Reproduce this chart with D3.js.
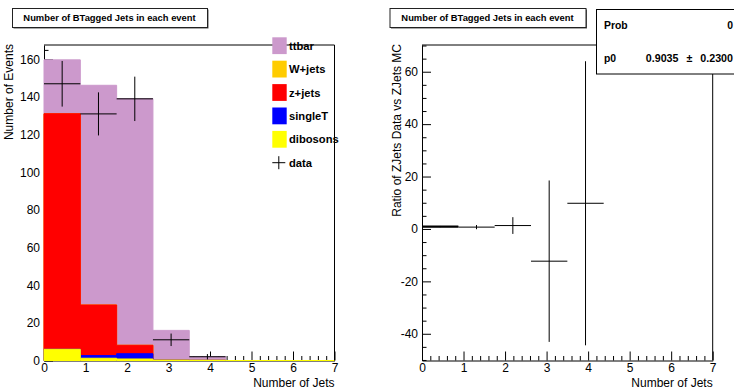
<!DOCTYPE html>
<html>
<head>
<meta charset="utf-8">
<script src="https://cdn.jsdelivr.net/npm/d3@7"></script>
<style>
  body { margin: 0; background: #fff; }
  svg { display: block; font-family: "Liberation Sans", Arial, Helvetica, sans-serif; }
</style>
</head>
<body>
<script>
// ---- histogram binning: 8 bins over [0, 7] ----
const nBins = 8;
const xDomain = [0, 7];
const xMajorTicks = [0, 1, 2, 3, 4, 5, 6, 7];

// ---- stacked MC contributions per bin (events) ----
const dibosons = [5.95, 1.2, 0.8, 0.2, 0.1, 0, 0, 0];
const singleT  = [0, 1.4, 2.8, 0, 0, 0, 0, 0];
const zjets    = [125.15, 26.9, 4.5, 0, 0, 0, 0, 0];
const wjets    = [0, 0, 0, 0, 0, 0, 0, 0];
const ttbar    = [28.6, 116.7, 131.0, 15.8, 1.9, 0, 0, 0];

// ---- observed data per bin ----
const dataCounts = [147, 131, 139, 11, 2];

// ---- Z+jets data / MC ratio per bin ----
const ratioValues = [0.9035, 0.7, 1.3, -12.3, 9.8];
const ratioErrors = [0.23, 0.8, 3.2, 30.8, 54.2];

// ---- constant fit to the ratio ----
const fitP0 = 0.9035;
const fitP0Err = 0.2300;
const fitProb = 0;

// ---- axis ticks ----
const leftYMajor = [0, 20, 40, 60, 80, 100, 120, 140, 160];
const rightYMajor = [-40, -20, 0, 20, 40, 60];

// ---- legend entries (top to bottom) ----
const legendNames = ["ttbar", "W+jets", "z+jets", "singleT", "dibosons"];
const legendColors = ["#cc99cc", "#ffcc00", "#ff0000", "#0000ff", "#ffff00"];

const W = 734, H = 391;
const svg = d3.select("body").append("svg").attr("width", W).attr("height", H);

const binWidth = (xDomain[1] - xDomain[0]) / nBins;
const binEdges = d3.range(nBins + 1).map(i => xDomain[0] + i * binWidth);
const binCenter = i => xDomain[0] + (i + 0.5) * binWidth;
const plainInt = d => String(Math.round(d));

function drawTitle(x, w, text) {
  const g = svg.append("g");
  g.append("rect").attr("x", x + 1.5).attr("y", 9.5).attr("width", w).attr("height", 19)
    .attr("fill", "#555");
  g.append("rect").attr("x", x + 0.5).attr("y", 8.5).attr("width", w).attr("height", 19)
    .attr("fill", "#fff").attr("stroke", "#222").attr("stroke-width", 1);
  g.append("text").attr("x", x + w / 2).attr("y", 21.3).attr("text-anchor", "middle")
    .attr("font-size", 9.4).attr("font-weight", "bold").text(text);
}

function styleAxis(g, fs) {
  g.attr("font-family", null).attr("font-size", null);
  g.selectAll("text").attr("font-size", fs).attr("fill", "#000");
  g.selectAll("line").attr("stroke", "#000");
  g.select(".domain").attr("stroke", "#000");
}

function drawAxes(x, y, yMajor, yMinorStep, plot) {
  const xMinor = d3.range(xDomain[0], xDomain[1] + 1e-9, 0.2)
    .filter(v => Math.abs(v - Math.round(v)) > 1e-6);
  const yd = y.domain();
  const yMinor = d3.range(Math.ceil(yd[0] / yMinorStep) * yMinorStep, yd[1] + 1e-9, yMinorStep)
    .filter(v => !yMajor.includes(v));

  const gx = svg.append("g").attr("transform", `translate(0,${plot.bottom})`)
    .call(d3.axisBottom(x).tickValues(xMajorTicks).tickSize(-9).tickSizeOuter(0).tickPadding(3)
      .tickFormat(plainInt));
  styleAxis(gx, 12);
  const gxm = svg.append("g").attr("transform", `translate(0,${plot.bottom})`)
    .call(d3.axisBottom(x).tickValues(xMinor).tickSize(-4.5).tickSizeOuter(0).tickFormat(""));
  styleAxis(gxm, 12);
  gxm.select(".domain").remove();

  const gy = svg.append("g").attr("transform", `translate(${plot.left},0)`)
    .call(d3.axisLeft(y).tickValues(yMajor).tickSize(-9).tickSizeOuter(0).tickPadding(4)
      .tickFormat(plainInt));
  styleAxis(gy, 12);
  const gym = svg.append("g").attr("transform", `translate(${plot.left},0)`)
    .call(d3.axisLeft(y).tickValues(yMinor).tickSize(-4.5).tickSizeOuter(0).tickFormat(""));
  styleAxis(gym, 12);
  gym.select(".domain").remove();
}

function drawFrameTopRight(plot) {
  svg.append("path")
    .attr("d", `M${plot.left},${plot.top}H${plot.right}V${plot.bottom}`)
    .attr("fill", "none").attr("stroke", "#000").attr("stroke-width", 1);
}

function drawXTitle(plot) {
  svg.append("text").attr("x", plot.right).attr("y", 387).attr("text-anchor", "end")
    .attr("font-size", 12).text("Number of Jets");
}
function drawYTitle(xPos, plot, text) {
  svg.append("text").attr("transform", `translate(${xPos},${plot.top - 1}) rotate(-90)`)
    .attr("text-anchor", "end").attr("font-size", 12).text(text);
}

// =================== left pad: stacked MC + data ===================
{
  const plot = { left: 44, right: 334.5, top: 45, bottom: 360.5 };
  const x = d3.scaleLinear().domain(xDomain).range([plot.left, plot.right]);
  const y = d3.scaleLinear().domain([0, 167.6]).range([plot.bottom, plot.top]);

  drawTitle(12, 195, "Number of BTagged Jets in each event");
  drawAxes(x, y, leftYMajor, 5, plot);

  const rows = d3.range(nBins).map(i => ({
    "dibosons": dibosons[i], "singleT": singleT[i], "z+jets": zjets[i],
    "W+jets": wjets[i], "ttbar": ttbar[i]
  }));
  const keys = ["dibosons", "singleT", "z+jets", "W+jets", "ttbar"];
  const color = d3.scaleOrdinal().domain(legendNames).range(legendColors);
  const layers = d3.stack().keys(keys)(rows);

  // cumulative histograms painted from the top of the stack down
  const area = d3.area()
    .curve(d3.curveStepAfter)
    .x(d => x(d.edge))
    .y0(y(0))
    .y1(d => y(d.top));
  layers.slice().reverse().forEach(layer => {
    const pts = binEdges.map((e, i) => ({ edge: e, top: layer[Math.min(i, nBins - 1)][1] }));
    svg.append("path").attr("d", area(pts))
      .attr("fill", color(layer.key)).attr("stroke", color(layer.key)).attr("stroke-width", 1);
  });

  drawFrameTopRight(plot);

  // data with Poisson errors
  const gData = svg.append("g").attr("stroke", "#000").attr("stroke-width", 1);
  dataCounts.forEach((n, i) => {
    const e = Math.sqrt(n);
    gData.append("line").attr("x1", x(binEdges[i])).attr("x2", x(binEdges[i + 1]))
      .attr("y1", y(n)).attr("y2", y(n));
    gData.append("line").attr("x1", x(binCenter(i))).attr("x2", x(binCenter(i)))
      .attr("y1", y(n - e)).attr("y2", y(n + e));
  });

  // legend
  const lg = svg.append("g");
  legendNames.forEach((name, i) => {
    const cy = 45.7 + i * 23.4;
    lg.append("rect").attr("x", 272.3).attr("y", cy - 8.4).attr("width", 14.4).attr("height", 16.8)
      .attr("fill", legendColors[i]);
    lg.append("text").attr("x", 289).attr("y", cy + 4).attr("font-size", 11.2)
      .attr("font-weight", "bold").text(name);
  });
  {
    const cy = 45.7 + 5 * 23.4;
    lg.append("line").attr("x1", 272.3).attr("x2", 285.3).attr("y1", cy).attr("y2", cy)
      .attr("stroke", "#000");
    lg.append("line").attr("x1", 278.8).attr("x2", 278.8).attr("y1", cy - 6.5).attr("y2", cy + 6.5)
      .attr("stroke", "#000");
    lg.append("text").attr("x", 289).attr("y", cy + 4).attr("font-size", 11.2)
      .attr("font-weight", "bold").text("data");
  }

  drawXTitle(plot);
  drawYTitle(13, plot, "Number of Events");
}

// =================== right pad: Z+jets data/MC ratio ===================
{
  const plot = { left: 422, right: 712.7, top: 45, bottom: 360.5 };
  const x = d3.scaleLinear().domain(xDomain).range([plot.left, plot.right]);
  const y = d3.scaleLinear().domain([-50.2, 70.2]).range([plot.bottom, plot.top]);

  drawTitle(389.5, 196, "Number of BTagged Jets in each event");
  drawAxes(x, y, rightYMajor, 5, plot);
  drawFrameTopRight(plot);

  // fitted constant over the first bin
  svg.append("line").attr("x1", x(binEdges[0])).attr("x2", x(binEdges[1]))
    .attr("y1", y(fitP0)).attr("y2", y(fitP0)).attr("stroke", "#000").attr("stroke-width", 2.2);

  const gR = svg.append("g").attr("stroke", "#000").attr("stroke-width", 1);
  ratioValues.forEach((v, i) => {
    const e = ratioErrors[i];
    gR.append("line").attr("x1", x(binEdges[i])).attr("x2", x(binEdges[i + 1]))
      .attr("y1", y(v)).attr("y2", y(v));
    gR.append("line").attr("x1", x(binCenter(i))).attr("x2", x(binCenter(i)))
      .attr("y1", y(v - e)).attr("y2", y(v + e));
  });

  // fit statistics box
  const sb = svg.append("g");
  sb.append("rect").attr("x", 596.5).attr("y", 9.5).attr("width", 200).attr("height", 64.5)
    .attr("fill", "#fff").attr("stroke", "#000").attr("stroke-width", 1);
  sb.append("text").attr("x", 604).attr("y", 28.8).attr("font-size", 10.4)
    .attr("font-weight", "bold").text("Prob");
  sb.append("text").attr("x", 733).attr("y", 28.8).attr("font-size", 10.4)
    .attr("text-anchor", "end").attr("font-weight", "bold").text(String(fitProb));
  sb.append("text").attr("x", 604).attr("y", 62).attr("font-size", 10.4)
    .attr("font-weight", "bold").text("p0");
  sb.append("text").attr("x", 733).attr("y", 62).attr("font-size", 10.7)
    .attr("text-anchor", "end").attr("font-weight", "bold").attr("word-spacing", 5)
    .text(`${fitP0.toFixed(4)} \u00B1 ${fitP0Err.toFixed(4)}`);

  drawXTitle(plot);
  drawYTitle(400.5, plot, "Ratio of ZJets Data vs ZJets MC");
}
</script>
</body>
</html>
